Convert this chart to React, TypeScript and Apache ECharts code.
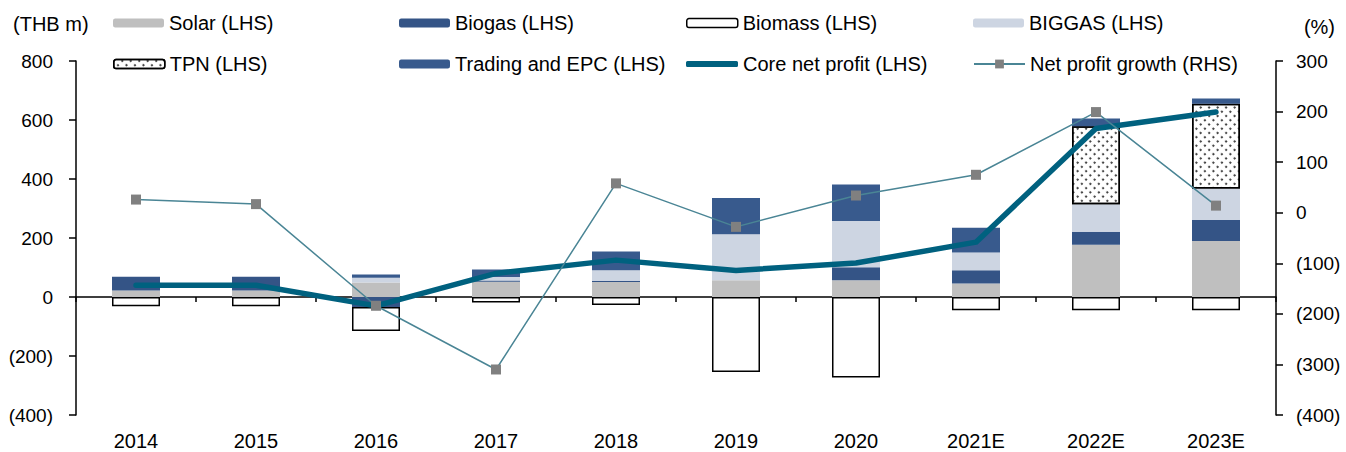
import React, { useEffect, useRef } from "react";
import * as echarts from "echarts";

const categories = ["2014", "2015", "2016", "2017", "2018", "2019", "2020", "2021E", "2022E", "2023E"];
const solar = [22, 22, 49, 52, 51, 57, 57, 46, 177, 190];
const biogas = [47, 47, -34, 4, 4, null, 44, 45, 44, 71];
const biomass = [-31, -31, -81, -19, -27, -254, -273, -45, -45, -45];
const biggas = [null, null, 16, 12, 36, 156, 157, 60, 93, 107];
const tpn = [null, null, null, null, null, null, null, null, 265, 287];
const trading = [null, null, 11, 25, 63, 123, 123, 84, 26, 18];
const coreNetProfit = [40, 40, -30, 80, 125, 90, 115, 186, 571, 627];
const netProfitGrowth = [26, 17, -184, -310, 58, -28, 34, 75, 199, 14];

const FONT = "'Liberation Sans', Arial, sans-serif";
const fmt = (v: number) => (v < 0 ? `(${-v})` : `${v}`);

export default function App() {
  const ref = useRef<HTMLDivElement>(null);
  useEffect(() => {
    if (!ref.current) return;
    const chart = echarts.init(ref.current, undefined, { renderer: "svg" });
    const barBase = { type: "bar", stack: "total", barWidth: 48, xAxisIndex: 0, yAxisIndex: 0 };
    const legendCommon = {
      orient: "horizontal",
      padding: 0,
      itemWidth: 51,
      itemHeight: 9,
      selectedMode: false,
      textStyle: { fontFamily: FONT, fontSize: 20, color: "#000" },
    };
    const row1 = 13;
    const row2 = 54;
    const axisLineStyle = { color: "#000", width: 1.5 };
    chart.setOption({
      animation: false,
      grid: { left: 76, right: 70, top: 61, bottom: 37, containLabel: false },
      legend: [
        { ...legendCommon, left: 113, top: row1, data: ["Solar (LHS)"] },
        { ...legendCommon, left: 399, top: row1, data: ["Biogas (LHS)"] },
        {
          ...legendCommon,
          left: 686,
          top: row1,
          data: [{ name: "Biomass (LHS)", itemStyle: { borderColor: "#000", borderWidth: 1.5 } }],
        },
        { ...legendCommon, left: 973, top: row1, data: ["BIGGAS (LHS)"] },
        {
          ...legendCommon,
          left: 113,
          top: row2,
          data: [{ name: "TPN (LHS)", itemStyle: { borderColor: "#000", borderWidth: 1.5 } }],
        },
        { ...legendCommon, left: 399, top: row2, data: ["Trading and EPC (LHS)"] },
        {
          ...legendCommon,
          left: 686,
          top: row2,
          itemHeight: 6,
          itemWidth: 52,
          icon: "roundRect",
          data: ["Core net profit (LHS)"],
        },
        { ...legendCommon, left: 973, top: row2, itemHeight: 11, data: ["Net profit growth (RHS)"] },
      ],
      graphic: [
        { type: "text", left: 13, top: 14, style: { text: "(THB m)", font: `20px ${FONT}`, fill: "#000" } },
        { type: "text", right: 11, top: 17, style: { text: "(%)", font: `20px ${FONT}`, fill: "#000" } },
      ],
      xAxis: [
        {
          type: "category",
          data: categories,
          position: "bottom",
          axisLine: { show: true, onZero: true, onZeroAxisIndex: 0, lineStyle: axisLineStyle },
          axisTick: { show: true, length: 5, lineStyle: axisLineStyle },
          axisLabel: { show: false },
          splitLine: { show: false },
        },
        {
          type: "category",
          data: categories,
          position: "bottom",
          axisLine: { show: false, onZero: false },
          axisTick: { show: false },
          axisLabel: { show: true, fontFamily: FONT, fontSize: 20, color: "#000", margin: 16 },
          splitLine: { show: false },
        },
      ],
      yAxis: [
        {
          type: "value",
          position: "left",
          min: -400,
          max: 800,
          interval: 200,
          axisLine: { show: true, onZero: false, lineStyle: axisLineStyle },
          axisTick: { show: true, length: 7, lineStyle: axisLineStyle },
          splitLine: { show: false },
          axisLabel: { formatter: fmt, fontFamily: FONT, fontSize: 19, color: "#000", margin: 23 },
        },
        {
          type: "value",
          position: "right",
          min: -400,
          max: 300,
          interval: 100,
          axisLine: { show: true, onZero: false, lineStyle: axisLineStyle },
          axisTick: { show: true, length: 7, lineStyle: axisLineStyle },
          splitLine: { show: false },
          axisLabel: { formatter: fmt, fontFamily: FONT, fontSize: 19, color: "#000", margin: 20 },
        },
      ],
      series: [
        { ...barBase, name: "Solar (LHS)", data: solar, itemStyle: { color: "#BFBFBF" } },
        { ...barBase, name: "Biogas (LHS)", data: biogas, itemStyle: { color: "#345486" } },
        {
          ...barBase,
          name: "Biomass (LHS)",
          data: biomass,
          itemStyle: { color: "#FFFFFF", borderColor: "#000", borderWidth: 1.5 },
        },
        { ...barBase, name: "BIGGAS (LHS)", data: biggas, itemStyle: { color: "#CDD5E2" } },
        {
          ...barBase,
          name: "TPN (LHS)",
          data: tpn,
          itemStyle: {
            color: "#FFFFFF",
            borderColor: "#000",
            borderWidth: 1.5,
            decal: {
              symbol: "circle",
              symbolSize: 1,
              color: "#222",
              backgroundColor: "#FFFFFF",
              dashArrayX: [2, 3.2],
              dashArrayY: [2, 3.2],
              rotation: Math.PI / 4,
            },
          },
        },
        { ...barBase, name: "Trading and EPC (LHS)", data: trading, itemStyle: { color: "#385A8D" } },
        {
          type: "line",
          name: "Core net profit (LHS)",
          data: coreNetProfit,
          xAxisIndex: 0,
          yAxisIndex: 0,
          symbol: "none",
          z: 4,
          itemStyle: { color: "#00617F" },
          lineStyle: { color: "#00617F", width: 5.5, cap: "round", join: "round" },
        },
        {
          type: "line",
          name: "Net profit growth (RHS)",
          data: netProfitGrowth,
          xAxisIndex: 0,
          yAxisIndex: 1,
          symbol: "rect",
          symbolSize: 10,
          showSymbol: true,
          z: 5,
          itemStyle: { color: "#808080" },
          lineStyle: { color: "#4A8595", width: 1.5 },
        },
      ],
    });
    return () => chart.dispose();
  }, []);
  return (
    <div
      ref={ref}
      style={{ position: "fixed", left: 0, top: 0, width: 1346, height: 452, background: "#fff" }}
    />
  );
}
